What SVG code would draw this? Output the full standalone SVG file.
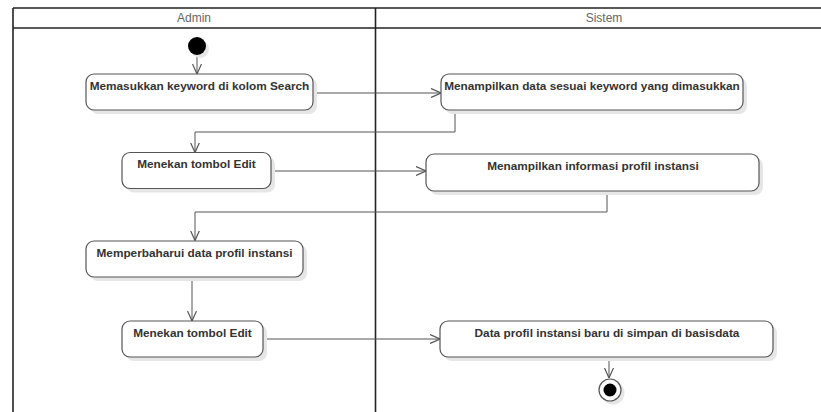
<svg xmlns="http://www.w3.org/2000/svg" width="821" height="412" viewBox="0 0 821 412">
<style>
.lane{fill:none;stroke:#222;stroke-width:1.6}
.hdr{font-family:"Liberation Sans",Arial,sans-serif;font-size:12px;fill:#666;text-anchor:middle}
.box{fill:#fff;stroke:#555;stroke-width:1.2}
.shadow{fill:#e6e6e6}
.lbl{font-family:"Liberation Sans",Arial,sans-serif;font-size:11.8px;font-weight:bold;fill:#333;text-anchor:middle}
.conn{fill:none;stroke:#555;stroke-width:1}
</style>
<defs>
<marker id="arr" viewBox="0 0 10 10" refX="10" refY="5" markerWidth="10" markerHeight="10" markerUnits="userSpaceOnUse" orient="auto">
<path d="M0,0.5 L10,5 L0,9.5" fill="none" stroke="#555" stroke-width="1.2"/>
</marker>
</defs>
<rect width="821" height="412" fill="#fff"/>
<g id="swimlanes">
<line class="lane" x1="13" y1="8" x2="821" y2="8"/>
<line class="lane" x1="13" y1="28" x2="821" y2="28"/>
<line class="lane" x1="13" y1="8" x2="13" y2="412"/>
<line class="lane" x1="375.5" y1="8" x2="375.5" y2="412"/>
<text class="hdr" x="194" y="22">Admin</text>
<text class="hdr" x="604" y="22">Sistem</text>
</g>
<g id="connectors">
<line class="conn" x1="197" y1="55" x2="197" y2="74" marker-end="url(#arr)"/>
<line class="conn" x1="313" y1="93" x2="441" y2="93" marker-end="url(#arr)"/>
<polyline class="conn" points="455,110 455,132 195,132 195,152.5" marker-end="url(#arr)"/>
<line class="conn" x1="271" y1="171" x2="426" y2="171" marker-end="url(#arr)"/>
<polyline class="conn" points="607,191 607,212 195,212 195,240.5" marker-end="url(#arr)"/>
<line class="conn" x1="192" y1="277" x2="192" y2="321" marker-end="url(#arr)"/>
<line class="conn" x1="263" y1="339" x2="440" y2="339" marker-end="url(#arr)"/>
<line class="conn" x1="609" y1="357" x2="609" y2="378" marker-end="url(#arr)"/>
</g>
<g id="start">
<circle cx="200" cy="49" r="9" class="shadow"/>
<circle cx="197" cy="46" r="9" fill="#000"/>
</g>
<g id="n1">
<rect class="shadow" x="90" y="78" width="227" height="36" rx="8"/>
<rect class="box" x="86" y="74" width="227" height="36" rx="8"/>
<text class="lbl" x="199.5" y="90">Memasukkan keyword di kolom Search</text>
</g>
<g id="n2">
<rect class="shadow" x="445" y="78" width="302" height="36" rx="8"/>
<rect class="box" x="441" y="74" width="302" height="36" rx="8"/>
<text class="lbl" x="592" y="90">Menampilkan data sesuai keyword yang dimasukkan</text>
</g>
<g id="n3">
<rect class="shadow" x="126" y="156.5" width="149" height="36" rx="8"/>
<rect class="box" x="122" y="152.5" width="149" height="36" rx="8"/>
<text class="lbl" x="196.5" y="168">Menekan tombol Edit</text>
</g>
<g id="n4">
<rect class="shadow" x="430" y="158" width="333" height="37" rx="8"/>
<rect class="box" x="426" y="154" width="333" height="37" rx="8"/>
<text class="lbl" x="593" y="170">Menampilkan informasi profil instansi</text>
</g>
<g id="n5">
<rect class="shadow" x="90" y="245" width="217" height="36" rx="8"/>
<rect class="box" x="86" y="241" width="217" height="36" rx="8"/>
<text class="lbl" x="194.5" y="257">Memperbaharui data profil instansi</text>
</g>
<g id="n6">
<rect class="shadow" x="126" y="325" width="141" height="36" rx="8"/>
<rect class="box" x="122" y="321" width="141" height="36" rx="8"/>
<text class="lbl" x="192.5" y="337">Menekan tombol Edit</text>
</g>
<g id="n7">
<rect class="shadow" x="444" y="325" width="333" height="36" rx="8"/>
<rect class="box" x="440" y="321" width="333" height="36" rx="8"/>
<text class="lbl" x="607" y="337">Data profil instansi baru di simpan di basisdata</text>
</g>
<g id="end">
<circle cx="613" cy="393" r="11.5" class="shadow"/>
<circle cx="610" cy="390" r="11" fill="#fff" stroke="#555" stroke-width="1.2"/>
<circle cx="610" cy="390" r="6.5" fill="#000"/>
</g>
</svg>
